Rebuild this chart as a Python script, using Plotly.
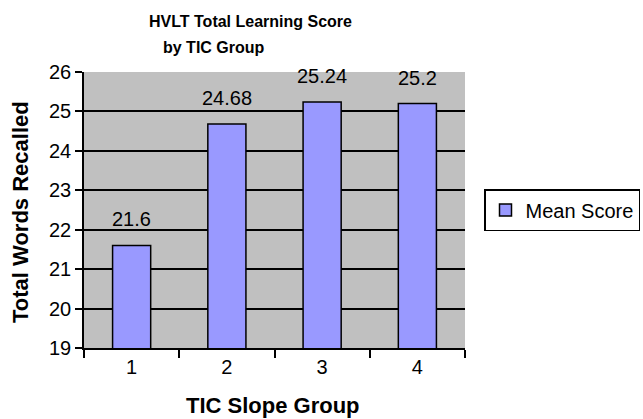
import plotly.graph_objects as go

groups = ["1", "2", "3", "4"]
mean_scores = [21.6, 24.68, 25.24, 25.2]
score_labels = ["21.6", "24.68", "25.24", "25.2"]
y_ticks = [19, 20, 21, 22, 23, 24, 25, 26]

FONT = "Liberation Sans, Arial"
L, R, T, B = 84, 178, 72, 71
W, H = 643, 419
plot_w = W - L - R
plot_h = H - T - B


def px_x(x):
    return (x - L) / plot_w


def px_y(y):
    return (H - B - y) / plot_h


fig = go.Figure()
fig.add_trace(go.Bar(
    x=groups, y=mean_scores, name="Mean Score",
    marker=dict(color="#9999FF", line=dict(color="black", width=1.5)),
    width=0.4,
))

annotations = []
for i, (v, lab) in enumerate(zip(mean_scores, score_labels)):
    annotations.append(dict(
        x=i, y=v, xref="x", yref="y", text=lab, showarrow=False,
        xanchor="center", yanchor="bottom", yshift=13,
        font=dict(size=20, color="black", family=FONT)))

annotations += [
    dict(text="<b>HVLT Total Learning Score</b>", x=px_x(250), y=px_y(21),
         xref="paper", yref="paper", xanchor="center", yanchor="middle",
         showarrow=False, font=dict(size=16, family=FONT)),
    dict(text="<b>by TIC Group</b>", x=px_x(214), y=px_y(47),
         xref="paper", yref="paper", xanchor="center", yanchor="middle",
         showarrow=False, font=dict(size=16, family=FONT)),
    dict(text="<b>TIC Slope Group</b>", x=px_x(273), y=px_y(405),
         xref="paper", yref="paper", xanchor="center", yanchor="middle",
         showarrow=False, font=dict(size=22, family=FONT)),
    dict(text="<b>Total Words Recalled</b>", x=px_x(20), y=px_y(212),
         xref="paper", yref="paper", xanchor="center", yanchor="middle",
         textangle=-90, showarrow=False, font=dict(size=22, family=FONT)),
]

fig.update_layout(
    width=W, height=H,
    margin=dict(l=L, r=R, t=T, b=B, autoexpand=False),
    paper_bgcolor="white", plot_bgcolor="#C0C0C0",
    font=dict(family=FONT, color="black"),
    showlegend=True,
    legend=dict(x=px_x(484), y=px_y(210), xanchor="left", yanchor="middle",
                bordercolor="black", borderwidth=1.5, bgcolor="white",
                itemwidth=30, font=dict(size=20, family=FONT)),
    xaxis=dict(type="category", range=[-0.5, 3.5], automargin=False,
               showline=True, linecolor="black", linewidth=1.5,
               ticks="outside", tickson="boundaries", ticklen=8, tickcolor="black",
               tickwidth=1.5, tickfont=dict(size=20)),
    yaxis=dict(range=[19, 26], tickvals=y_ticks, automargin=False,
               showline=True, linecolor="black", linewidth=1.5,
               ticks="outside", ticklen=7, tickcolor="black", tickwidth=1.5,
               showgrid=True, gridcolor="black", gridwidth=1.5,
               tickfont=dict(size=20)),
    annotations=annotations,
)
fig.write_html("out.html", config={"displayModeBar": False},
               post_script="document.body.style.margin='0';document.body.style.overflow='hidden';")
